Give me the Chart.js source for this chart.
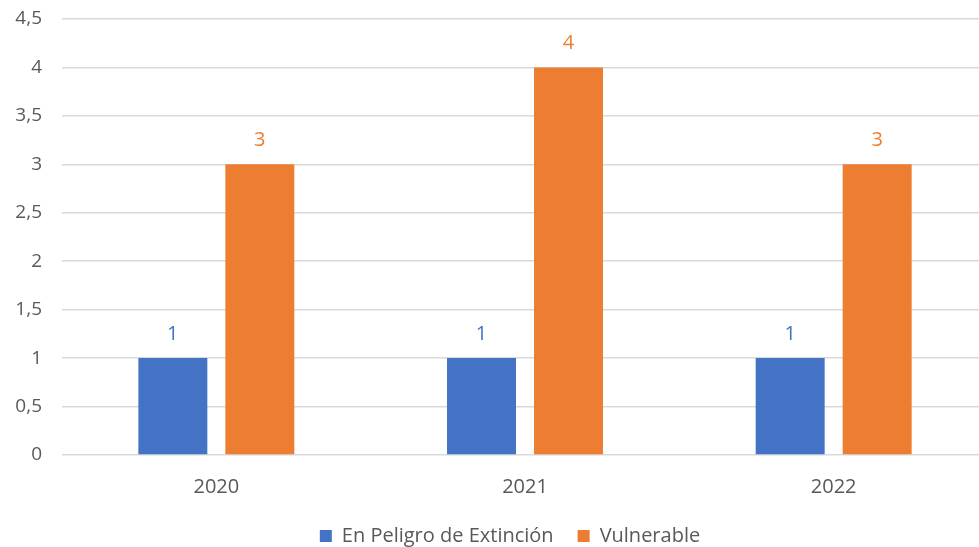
<!DOCTYPE html>
<html><head><meta charset="utf-8">
<script src="https://cdn.jsdelivr.net/npm/chart.js@4/dist/chart.umd.min.js"></script>
<style>html,body{margin:0;padding:0;background:#fff;overflow:hidden}#wrap{width:979px;height:547px;overflow:hidden}</style>
</head><body><div id="wrap"><canvas id="c" width="988" height="556"></canvas></div>
<script>
const categories = ['2020', '2021', '2022'];
const enPeligro = [1, 1, 1];
const vulnerable = [3, 4, 3];
const seriesNames = ['En Peligro de Extinción', 'Vulnerable'];
const yMin = 0, yMax = 4.5, yStep = 0.5;

const FONT = '"Open Sans", sans-serif';
const labelPlugin = {
  id: 'valLabels',
  afterDatasetsDraw(chart) {
    const ctx = chart.ctx;
    chart.data.datasets.forEach((ds, i) => {
      const meta = chart.getDatasetMeta(i);
      meta.data.forEach((bar, j) => {
        ctx.save();
        ctx.fillStyle = ds.backgroundColor;
        ctx.font = '20px ' + FONT;
        ctx.textAlign = 'center';
        ctx.textBaseline = 'middle';
        ctx.fillText(String(ds.data[j]).replace('.', ','), bar.x, bar.y - 24);
        ctx.restore();
      });
    });
  }
};
const legendShift = {
  id: 'legendShift',
  afterLayout(chart) { if (chart.legend) chart.legend.left += 32; }
};

new Chart(document.getElementById('c'), {
  type: 'bar',
  data: {
    labels: categories,
    datasets: [
      { label: seriesNames[0], data: enPeligro, backgroundColor: '#4472C4' },
      { label: seriesNames[1], data: vulnerable, backgroundColor: '#ED7D31' }
    ]
  },
  options: {
    responsive: false,
    animation: false,
    devicePixelRatio: 1,
    layout: { padding: { top: 19, right: 0, left: 0, bottom: 0 } },
    datasets: { bar: { categoryPercentage: 0.5636, barPercentage: 0.793 } },
    scales: {
      x: {
        grid: { display: false, drawTicks: false },
        border: { display: false },
        afterFit(s) { s.paddingLeft = 0; s.paddingRight = 0; s.height = 47; },
        ticks: { color: '#595959', font: { family: FONT, size: 20 }, padding: 20 }
      },
      y: {
        min: yMin, max: yMax,
        afterFit(s) { s.width = 62; s.paddingTop = 0; s.paddingBottom = 0; },
        grid: { color: '#d9d9d9', lineWidth: 1.5, drawTicks: false },
        border: { display: false },
        ticks: {
          stepSize: yStep, color: '#595959', padding: 20,
          font: { family: FONT, size: 19 },
          callback: v => String(v).replace('.', ',')
        }
      }
    },
    plugins: {
      legend: {
        position: 'bottom',
        labels: { color: '#595959', font: { family: FONT, size: 20 }, boxWidth: 12, boxHeight: 12, padding: 24 }
      },
      tooltip: { enabled: false }
    }
  },
  plugins: [labelPlugin, legendShift]
});
</script></body></html>
